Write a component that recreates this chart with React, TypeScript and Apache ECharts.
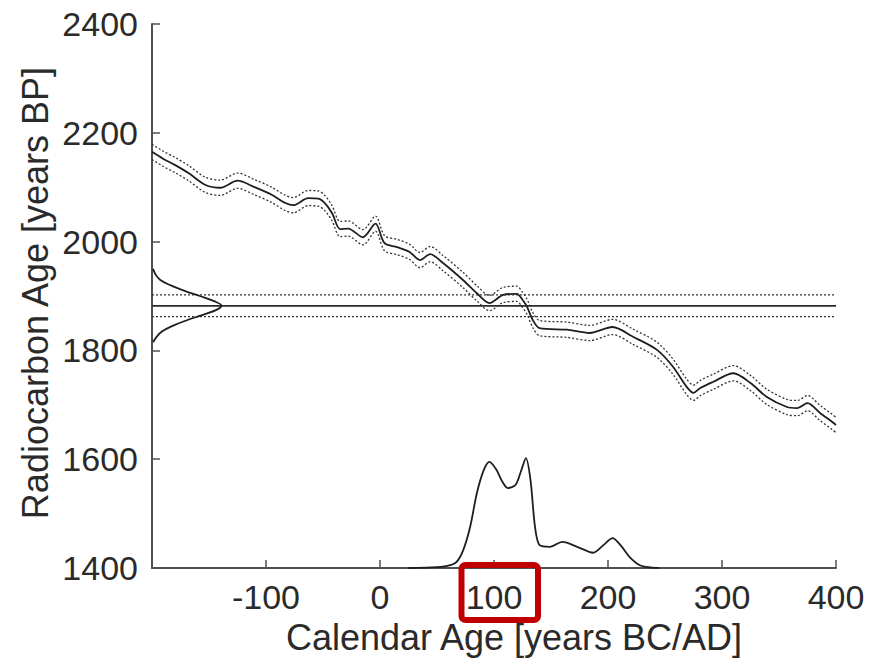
import React, { useEffect, useRef } from "react";
import * as echarts from "echarts";

// Calibration curve (calendar year, radiocarbon age BP)
const curveYears = [-200, -190, -180, -168, -153, -140, -125, -110, -95, -83, -76, -63, -54, -48, -42, -35, -28, -15, -4, 4, 15, 26, 35, 44, 55, 73, 85, 96, 108, 120, 125, 129, 134, 140, 164, 184, 204, 222, 243, 257, 269, 275, 281, 292, 310, 325, 339, 357, 366, 375, 386, 397, 400];
const curveAges = [2165, 2152, 2141, 2126, 2104, 2099, 2112, 2100, 2086, 2071, 2067, 2080, 2079, 2070, 2052, 2023, 2024, 2008, 2033, 1997, 1990, 1981, 1966, 1977, 1961, 1929, 1905, 1887, 1902, 1904, 1893, 1880, 1856, 1841, 1838, 1832, 1843, 1825, 1801, 1770, 1733, 1722, 1731, 1742, 1758, 1740, 1715, 1696, 1694, 1703, 1685, 1668, 1663];
const curveSigma = [14, 14, 14, 14, 14, 14, 14, 14, 14, 14, 14, 14, 14, 14, 14, 14, 14, 14, 14, 14, 14, 14, 14, 14, 14, 14, 14, 14, 14, 14, 14, 14, 14, 14, 14, 14, 14, 14, 14, 14, 14, 14, 14, 14, 14, 14, 14, 14, 14, 14, 14, 14, 14];

// Measured radiocarbon date
const measuredAge = 1882;
const measuredSigma = 20;
const lineSpan = [-200, 400];

// Measurement probability (radiocarbon age, calendar-axis extent)
const gaussAges = [1950, 1940, 1930, 1920, 1910, 1900, 1890, 1882, 1875, 1865, 1855, 1845, 1835, 1825, 1815];
const gaussX = [-199, -197, -193, -184, -172, -158, -145, -139, -143, -156, -170, -182, -191, -196, -199];

// Calibrated probability (calendar year, plotted level)
const calYears = [25, 45, 59, 67, 73, 79, 85, 91, 96, 102, 107, 112, 119, 124, 128, 132, 136, 140, 149, 160, 173, 187, 196, 204, 211, 219, 228, 237, 245];
const calLevels = [1400, 1401, 1404, 1411, 1433, 1475, 1538, 1580, 1595, 1581, 1560, 1547, 1553, 1580, 1602, 1562, 1475, 1442, 1439, 1448, 1439, 1428, 1442, 1455, 1442, 1420, 1405, 1401, 1400];

const xTicks = [-200, -100, 0, 100, 200, 300, 400];
const yTicks = [1400, 1600, 1800, 2000, 2200, 2400];

const FONT = "'Liberation Sans', Arial, sans-serif";
const TXT = "#2a2a2a";
const AX = "#505050";

export default function App() {
  const ref = useRef<HTMLDivElement>(null);
  useEffect(() => {
    if (!ref.current) return;
    const chart = echarts.init(ref.current, null, { renderer: "svg" });
    const mid = curveYears.map((x, i) => [x, curveAges[i]]);
    const up = curveYears.map((x, i) => [x, curveAges[i] + curveSigma[i]]);
    const lo = curveYears.map((x, i) => [x, curveAges[i] - curveSigma[i]]);
    const hLine = (v: number) => lineSpan.map((x) => [x, v]);
    const gauss = gaussAges.map((a, i) => [gaussX[i], a]);
    const cal = calYears.map((x, i) => [x, calLevels[i]]);
    const base = { type: "line", showSymbol: false, symbol: "none", silent: true, z: 3 };
    chart.setOption({
      animation: false,
      backgroundColor: "#ffffff",
      grid: { left: 152, right: 36, top: 24, bottom: 92, containLabel: false },
      xAxis: {
        type: "value",
        min: xTicks[0],
        max: xTicks[xTicks.length - 1],
        interval: 100,
        axisLine: { onZero: false, lineStyle: { color: AX, width: 2 } },
        axisTick: { inside: true, length: 8, lineStyle: { color: AX, width: 1.5 } },
        splitLine: { show: false },
        axisLabel: {
          fontSize: 34,
          fontFamily: FONT,
          color: TXT,
          margin: 12,
          formatter: (v: number) => (v === xTicks[0] ? "" : String(v)),
        },
      },
      yAxis: {
        type: "value",
        min: yTicks[0],
        max: yTicks[yTicks.length - 1],
        interval: 200,
        axisLine: { show: true, onZero: false, lineStyle: { color: AX, width: 2 } },
        axisTick: { show: true, inside: true, length: 8, lineStyle: { color: AX, width: 1.5 } },
        splitLine: { show: false },
        axisLabel: {
          fontSize: 34,
          fontFamily: FONT,
          color: TXT,
          margin: 14,
          formatter: (v: number) => String(v),
        },
      },
      series: [
        { ...base, data: up, smooth: 0.3, lineStyle: { color: "#333", width: 1.3, type: [2, 2] } },
        { ...base, data: lo, smooth: 0.3, lineStyle: { color: "#333", width: 1.3, type: [2, 2] } },
        { ...base, data: mid, smooth: 0.3, lineStyle: { color: "#1e1e1e", width: 1.8 } },
        { ...base, data: hLine(measuredAge), lineStyle: { color: "#2a2a2a", width: 1.8 } },
        { ...base, data: hLine(measuredAge + measuredSigma), lineStyle: { color: "#333", width: 1.3, type: [2, 2] } },
        { ...base, data: hLine(measuredAge - measuredSigma), lineStyle: { color: "#333", width: 1.3, type: [2, 2] } },
        { ...base, data: gauss, smooth: 0.4, lineStyle: { color: "#1e1e1e", width: 1.8 } },
        { ...base, data: cal, smooth: 0.3, lineStyle: { color: "#1e1e1e", width: 1.8 } },
      ],
      graphic: [
        {
          type: "text",
          x: 35,
          y: 293,
          rotation: Math.PI / 2,
          style: {
            text: "Radiocarbon Age [years BP]",
            fontSize: 36,
            fontFamily: FONT,
            fill: TXT,
            align: "center",
            verticalAlign: "middle",
          },
        },
        {
          type: "text",
          x: 514,
          y: 637,
          style: {
            text: "Calendar Age [years BC/AD]",
            fontSize: 36,
            fontFamily: FONT,
            fill: TXT,
            align: "center",
            verticalAlign: "middle",
          },
        },
        {
          type: "rect",
          shape: { x: 461.5, y: 565, width: 76.5, height: 55, r: 4 },
          style: { fill: "none", stroke: "#c00000", lineWidth: 6 },
          z: 100,
        },
      ],
    });
    return () => chart.dispose();
  }, []);
  return (
    <div
      ref={ref}
      style={{ position: "fixed", left: 0, top: 0, width: 872, height: 660, background: "#fff" }}
    />
  );
}
